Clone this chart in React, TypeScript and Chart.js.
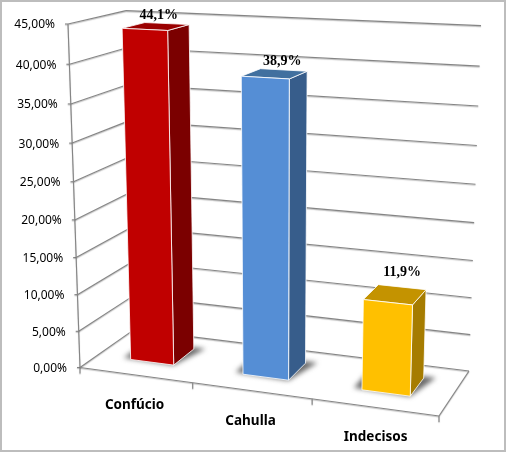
import { useEffect, useRef } from "react";
import { Chart, registerables } from "chart.js";

Chart.register(...registerables);

const categories = ["Confúcio", "Cahulla", "Indecisos"];
const shares = [44.1, 38.9, 11.9];
const axisMax = 45;
const axisStep = 5;

const frontColors = ["#C00000", "#558ED5", "#FFC000"];
const sideColors = ["#7B0000", "#375D8B", "#A67C00"];
const topColors = ["#9A0000", "#41709F", "#C49300"];

// nudge of each data label from the back edge of its bar top
const labelNudge = [[-8, -4.5], [-1.5, -5], [0, -11]];
const categoryNudge = [-1, -1, 1];

// perspective box: floor corners and the top of the front left edge
const FL = [80, 367.5];
const FR = [439, 416];
const BR = [469, 371];
const BL = [134, 329.6];
const FL_TOP = [68, 24];
const K = -0.058;
const BAR_DEPTH = [0.31, 0.72];

const dx1 = [FR[0] - BR[0], FR[1] - BR[1]];
const dx2 = [BL[0] - BR[0], BL[1] - BR[1]];
const sx = FL[0] - FR[0] + BR[0] - BL[0];
const sy = FL[1] - FR[1] + BR[1] - BL[1];
const den = dx1[0] * dx2[1] - dx1[1] * dx2[0];
const G = (sx * dx2[1] - sy * dx2[0]) / den;
const H = (dx1[0] * sy - dx1[1] * sx) / den;
const KVX = FL_TOP[0] * (1 + K) - FL[0];
const KVY = FL_TOP[1] * (1 + K) - FL[1];

// u along the categories, d into the depth, v up the value axis, all 0..1
function project(u: number, d: number, v: number) {
  const w = G * u + H * d + 1 + K * v;
  const x =
    (FR[0] - FL[0] + G * FR[0]) * u + (BL[0] - FL[0] + H * BL[0]) * d + FL[0] + KVX * v;
  const y =
    (FR[1] - FL[1] + G * FR[1]) * u + (BL[1] - FL[1] + H * BL[1]) * d + FL[1] + KVY * v;
  return [x / w, y / w];
}

function segment(ctx: CanvasRenderingContext2D, a: number[], b: number[]) {
  ctx.beginPath();
  ctx.moveTo(a[0], a[1]);
  ctx.lineTo(b[0], b[1]);
  ctx.stroke();
}

function face(ctx: CanvasRenderingContext2D, pts: number[][], fill: string) {
  ctx.beginPath();
  pts.forEach((p, i) => (i ? ctx.lineTo(p[0], p[1]) : ctx.moveTo(p[0], p[1])));
  ctx.closePath();
  ctx.fillStyle = fill;
  ctx.fill();
  ctx.strokeStyle = "rgba(255,255,255,0.8)";
  ctx.lineWidth = 1;
  ctx.stroke();
}

const box3d = {
  id: "box3d",
  beforeDraw(chart: any) {
    const ctx = chart.ctx;
    ctx.save();
    ctx.fillStyle = "#fff";
    ctx.fillRect(0, 0, chart.width, chart.height);
    ctx.strokeStyle = "#BDBDBD";
    ctx.lineWidth = 2;
    ctx.strokeRect(1, 1, chart.width - 2, chart.height - 2);
    ctx.restore();
  },
  afterDatasetsDraw(chart: any) {
    const ctx = chart.ctx;
    const area = chart.chartArea;
    const yScale = chart.scales.y;
    const xScale = chart.scales.x;
    const toU = (px: number) => (px - area.left) / (area.right - area.left);
    const toV = (px: number) => (area.bottom - px) / (area.bottom - area.top);

    ctx.save();
    // walls and ticks
    ctx.strokeStyle = "#858585";
    ctx.lineWidth = 1.1;
    ctx.shadowColor = "rgba(0,0,0,0.25)";
    ctx.shadowBlur = 1;
    ctx.shadowOffsetY = 1;
    ctx.textAlign = "right";
    ctx.textBaseline = "middle";
    yScale.ticks.forEach((tick: any) => {
      const v = toV(yScale.getPixelForValue(tick.value));
      const front = project(0, 0, v);
      const back = project(0, 1, v);
      const end = project(1, 1, v);
      segment(ctx, front, back);
      segment(ctx, back, end);
      segment(ctx, [front[0] - 3, front[1]], front);
    });
    segment(ctx, project(0, 0, 0), project(0, 0, 1));
    segment(ctx, project(0, 0, 0), project(1, 0, 0));
    segment(ctx, project(1, 0, 0), project(1, 1, 0));
    [0, 1, 2, 3].forEach((i) => {
      const p = project(i / 3, 0, 0);
      segment(ctx, p, [p[0], p[1] + 6]);
    });
    ctx.shadowColor = "transparent";

    ctx.fillStyle = "#000";
    ctx.font = "12px 'Noto Sans'";
    yScale.ticks.forEach((tick: any) => {
      const v = toV(yScale.getPixelForValue(tick.value));
      const front = project(0, 0, v);
      ctx.fillText(tick.label, front[0] - 13, front[1] + 1);
    });

    ctx.textAlign = "center";
    ctx.font = "bold 13.5px 'Noto Sans'";
    xScale.ticks.forEach((tick: any, i: number) => {
      const p = project(toU(xScale.getPixelForValue(i)), 0, 0);
      ctx.fillText(tick.label, p[0] + categoryNudge[i], p[1] + 30);
    });

    // bars, taken from the library's own bar elements
    const [d0, d1] = BAR_DEPTH;
    chart.getDatasetMeta(0).data.forEach((el: any, i: number) => {
      const u0 = toU(el.x - el.width / 2);
      const u1 = toU(el.x + el.width / 2);
      const v = toV(el.y);

      // soft floor shadow, spilling left and behind the bar
      ctx.save();
      ctx.filter = "blur(2.5px)";
      ctx.fillStyle = "rgba(70,70,70,0.8)";
      ctx.beginPath();
      [
        project(u0 - 0.024, d0 + 0.02, 0),
        project(u1, d0 - 0.005, 0),
        project(u1 + 0.03, d1 + 0.04, 0),
        project(u0 - 0.024, d1 + 0.04, 0),
      ].forEach((p, k) => (k ? ctx.lineTo(p[0], p[1]) : ctx.moveTo(p[0], p[1])));
      ctx.closePath();
      ctx.fill();
      ctx.restore();

      face(
        ctx,
        [project(u1, d0, 0), project(u1, d1, 0), project(u1, d1, v), project(u1, d0, v)],
        sideColors[i]
      );
      face(
        ctx,
        [project(u0, d0, v), project(u1, d0, v), project(u1, d1, v), project(u0, d1, v)],
        topColors[i]
      );
      face(
        ctx,
        [project(u0, d0, 0), project(u1, d0, 0), project(u1, d0, v), project(u0, d0, v)],
        frontColors[i]
      );

      const p = project((u0 + u1) / 2, d1, v);
      ctx.fillStyle = "#000";
      ctx.font = "bold 14px 'Liberation Serif'";
      ctx.textBaseline = "alphabetic";
      ctx.fillText(
        shares[i].toFixed(1).replace(".", ",") + "%",
        p[0] + labelNudge[i][0],
        p[1] + labelNudge[i][1]
      );
    });
    ctx.restore();
  },
};

export default function App() {
  const chartRef = useRef<HTMLCanvasElement>(null);

  useEffect(() => {
    if (!chartRef.current) return;
    const chart = new Chart(chartRef.current, {
      type: "bar",
      data: {
        labels: categories,
        datasets: [
          {
            data: shares,
            backgroundColor: "transparent",
            barPercentage: 0.39,
            categoryPercentage: 1,
          },
        ],
      },
      options: {
        responsive: false,
        animation: false,
        devicePixelRatio: 1,
        layout: { padding: 0 },
        plugins: { legend: { display: false }, tooltip: { enabled: false } },
        scales: {
          x: { display: false, offset: true },
          y: {
            display: false,
            min: 0,
            max: axisMax,
            ticks: {
              stepSize: axisStep,
              callback: (value: any) => Number(value).toFixed(2).replace(".", ",") + "%",
            },
          },
        },
      },
      plugins: [box3d],
    });
    return () => chart.destroy();
  }, []);

  return (
    <>
      <style>{"body{margin:0}"}</style>
      <canvas ref={chartRef} width={506} height={452} style={{ display: "block" }} />
    </>
  );
}
